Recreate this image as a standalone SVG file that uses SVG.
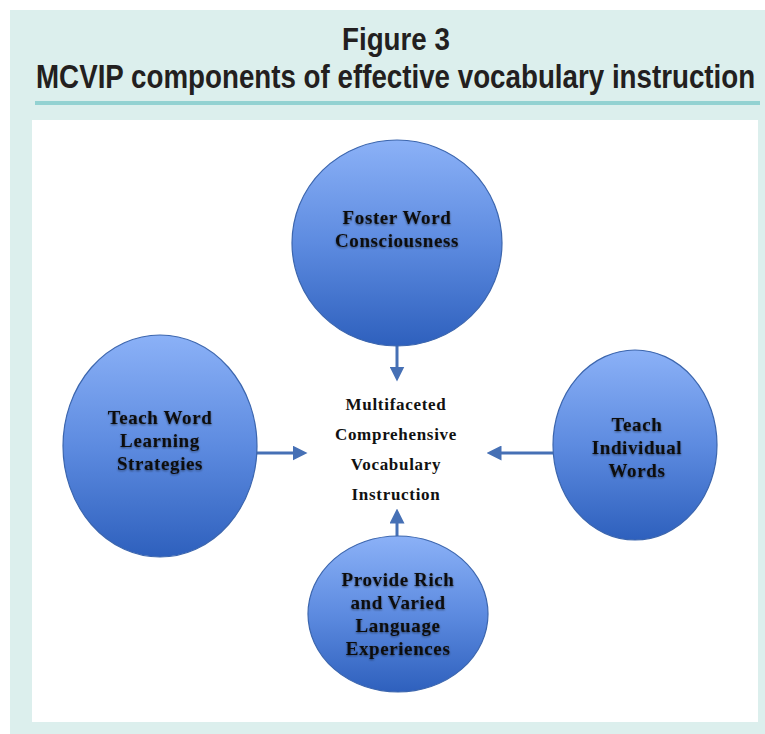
<svg xmlns="http://www.w3.org/2000/svg" width="765" height="734" viewBox="0 0 765 734">
<style>
.title{font-family:"Liberation Sans",Arial,sans-serif;font-weight:bold;fill:#231f20;}
.node{fill:url(#blue);stroke:#3c66ae;stroke-width:1.2;}
.lbl{font-family:"Liberation Serif","DejaVu Serif",serif;font-weight:bold;font-size:19px;letter-spacing:0.6px;fill:#111;text-anchor:middle;filter:url(#glow);}
.ctr{font-family:"Liberation Serif","DejaVu Serif",serif;font-weight:bold;font-size:17px;letter-spacing:0.7px;fill:#111;text-anchor:middle;}
.conn{stroke:#4670b5;stroke-width:3;fill:none;marker-end:url(#ah);}
</style>
<defs>
<linearGradient id="blue" x1="0" y1="0" x2="0" y2="1">
<stop offset="0" stop-color="#8bb1f7"/>
<stop offset="0.5" stop-color="#5d8be0"/>
<stop offset="1" stop-color="#2e60bd"/>
</linearGradient>
<filter id="glow" x="-10%" y="-20%" width="120%" height="140%">
<feGaussianBlur in="SourceAlpha" stdDeviation="1.2" result="b"/>
<feOffset in="b" dx="0" dy="1" result="o"/>
<feComponentTransfer in="o" result="s"><feFuncA type="linear" slope="0.5"/></feComponentTransfer>
<feMerge><feMergeNode in="s"/><feMergeNode in="SourceGraphic"/></feMerge>
</filter>
<marker id="ah" markerWidth="5" markerHeight="5" refX="2.5" refY="2.5" orient="auto" markerUnits="strokeWidth">
<path d="M0,0 L5,2.5 L0,5 Z" fill="#4670b5"/>
</marker>
</defs>
<rect x="0" y="0" width="765" height="734" fill="#ffffff"/>
<rect x="10" y="10" width="755" height="724" fill="#dcefed"/>
<text class="title" transform="translate(342,50) scale(0.867,1)" font-size="32">Figure 3</text>
<text class="title" transform="translate(36,88) scale(0.841,1)" font-size="33">MCVIP components of effective vocabulary instruction</text>
<rect x="35" y="101" width="725" height="4" fill="#93d2d2"/>
<rect x="32" y="120" width="726" height="602" fill="#ffffff"/>

<g id="connectors">
<line class="conn" x1="397" y1="346" x2="397" y2="374"/>
<line class="conn" x1="257" y1="453" x2="300" y2="453"/>
<line class="conn" x1="553" y1="453" x2="494" y2="453"/>
<line class="conn" x1="397" y1="541" x2="397" y2="516"/>
</g>

<g id="foster">
<ellipse class="node" cx="397" cy="243" rx="105" ry="103"/>
<text class="lbl" x="397" y="224">Foster Word</text>
<text class="lbl" x="397" y="247">Consciousness</text>
</g>
<g id="strategies">
<ellipse class="node" cx="160" cy="446" rx="97" ry="111"/>
<text class="lbl" x="160" y="424">Teach Word</text>
<text class="lbl" x="160" y="447">Learning</text>
<text class="lbl" x="160" y="470">Strategies</text>
</g>
<g id="individual">
<ellipse class="node" cx="635" cy="445" rx="82" ry="95"/>
<text class="lbl" x="637" y="431">Teach</text>
<text class="lbl" x="637" y="454">Individual</text>
<text class="lbl" x="637" y="477">Words</text>
</g>
<g id="rich">
<ellipse class="node" cx="398" cy="614" rx="90" ry="78"/>
<text class="lbl" x="398" y="586">Provide Rich</text>
<text class="lbl" x="398" y="609">and Varied</text>
<text class="lbl" x="398" y="632">Language</text>
<text class="lbl" x="398" y="655">Experiences</text>
</g>
<g id="center">
<text class="ctr" x="396" y="410">Multifaceted</text>
<text class="ctr" x="396" y="440">Comprehensive</text>
<text class="ctr" x="396" y="470">Vocabulary</text>
<text class="ctr" x="396" y="500">Instruction</text>
</g>
</svg>
